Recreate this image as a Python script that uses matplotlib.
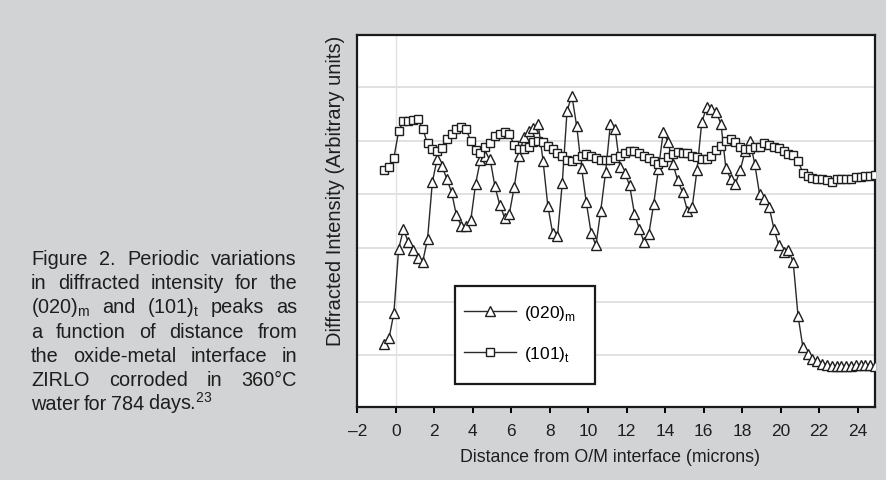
import matplotlib
matplotlib.use("Agg")
from matplotlib import pyplot as plt
from matplotlib.patches import Rectangle

# distance from O/M interface (microns), same scan points for both peaks
x = [-0.6, -0.35, -0.1, 0.15, 0.4, 0.65, 0.9, 1.15, 1.4, 1.65,
     1.9, 2.15, 2.4, 2.65, 2.9, 3.15, 3.4, 3.65, 3.9, 4.15,
     4.4, 4.65, 4.9, 5.15, 5.4, 5.65, 5.9, 6.15, 6.4, 6.65,
     6.9, 7.15, 7.4, 7.65, 7.9, 8.15, 8.4, 8.65, 8.9, 9.15,
     9.4, 9.65, 9.9, 10.15, 10.4, 10.65, 10.9, 11.15, 11.4, 11.65,
     11.9, 12.15, 12.4, 12.65, 12.9, 13.15, 13.4, 13.65, 13.9, 14.15,
     14.4, 14.65, 14.9, 15.15, 15.4, 15.65, 15.9, 16.15, 16.4, 16.65,
     16.9, 17.15, 17.4, 17.65, 17.9, 18.15, 18.4, 18.65, 18.9, 19.15,
     19.4, 19.65, 19.9, 20.15, 20.4, 20.65, 20.9, 21.15, 21.4, 21.65,
     21.9, 22.15, 22.4, 22.65, 22.9, 23.15, 23.4, 23.65, 23.9, 24.15,
     24.4, 24.65, 24.9]

# (020)m intensity
i020 = [1.22, 1.32, 1.79, 2.99, 3.35, 3.11, 2.96, 2.81, 2.75, 3.17,
        4.23, 4.66, 4.53, 4.29, 4.04, 3.61, 3.42, 3.42, 3.53, 4.20,
        4.65, 4.72, 4.66, 4.15, 3.81, 3.57, 3.64, 4.13, 4.71, 5.07,
        5.19, 5.23, 5.31, 4.63, 3.79, 3.28, 3.22, 4.21, 5.56, 5.84,
        5.27, 4.50, 3.85, 3.28, 3.05, 3.70, 4.41, 5.31, 5.21, 4.51,
        4.40, 4.17, 3.64, 3.36, 3.11, 3.27, 3.82, 4.48, 5.17, 4.97,
        4.57, 4.26, 4.04, 3.70, 3.76, 4.45, 5.35, 5.62, 5.60, 5.53,
        5.31, 4.49, 4.29, 4.20, 4.46, 4.80, 5.00, 4.57, 4.01, 3.92,
        3.76, 3.36, 3.05, 2.92, 2.96, 2.74, 1.74, 1.16, 1.03, 0.94,
        0.89, 0.85, 0.83, 0.81, 0.80, 0.80, 0.80, 0.81, 0.82, 0.82,
        0.82, 0.82, 0.81]

# (101)t intensity
i101 = [4.45, 4.51, 4.68, 5.18, 5.36, 5.37, 5.39, 5.41, 5.22, 4.95,
        4.84, 4.80, 4.86, 5.03, 5.13, 5.21, 5.26, 5.21, 5.00, 4.82,
        4.78, 4.88, 4.96, 5.08, 5.13, 5.16, 5.13, 4.92, 4.85, 4.85,
        4.89, 4.97, 5.00, 4.98, 4.91, 4.85, 4.78, 4.71, 4.65, 4.63,
        4.66, 4.71, 4.75, 4.71, 4.67, 4.65, 4.65, 4.65, 4.67, 4.71,
        4.77, 4.80, 4.80, 4.77, 4.72, 4.67, 4.62, 4.57, 4.60, 4.69,
        4.76, 4.79, 4.78, 4.77, 4.71, 4.69, 4.66, 4.66, 4.72, 4.83,
        4.91, 4.99, 5.03, 4.97, 4.88, 4.84, 4.85, 4.88, 4.89, 4.95,
        4.92, 4.89, 4.86, 4.80, 4.75, 4.73, 4.63, 4.40, 4.34, 4.30,
        4.29, 4.28, 4.26, 4.23, 4.28, 4.29, 4.29, 4.29, 4.32, 4.33,
        4.34, 4.35, 4.37]

xticks = [-2, 0, 2, 4, 6, 8, 10, 12, 14, 16, 18, 20, 22, 24]
xticklabels = ["\u20132", "0", "2", "4", "6", "8", "10", "12", "14", "16",
               "18", "20", "22", "24"]
grid_y = [1, 2, 3, 4, 5, 6]

caption = ["Figure 2. Periodic variations",
           "in diffracted intensity for the",
           r"(020)$_\mathregular{m}$ and (101)$_\mathregular{t}$ peaks as",
           "a function of distance from",
           "the oxide-metal interface in",
           "ZIRLO corroded in 360\u00b0C",
           r"water for 784 days.$^\mathregular{23}$"]

bg = "#d2d3d5"
ink = "#1e1e1e"
plt.rcParams["font.family"] = ["Liberation Sans", "DejaVu Sans"]

fig = plt.figure(figsize=(8.86, 4.81), dpi=100, facecolor=bg)
ax = fig.add_axes([357.3 / 886, 1 - 408 / 481, (875 - 357.3) / 886, (408 - 36) / 481])
ax.set_facecolor("white")

for g in grid_y:
    ax.axhline(g, color="#dedede", lw=1.3, zorder=0)
ax.axvline(0, color="#e2e2e2", lw=1.0, zorder=0)

ax.plot(x, i020, color="#2a2a2a", lw=1.0, marker="^", ms=7, mfc="white",
        mec=ink, mew=1.0, label=r"(020)$_\mathregular{m}$", zorder=3)
ax.plot(x, i101, color="#2a2a2a", lw=1.0, marker="s", ms=5.2, mfc="white",
        mec=ink, mew=1.0, label=r"(101)$_\mathregular{t}$", zorder=3)

ax.set_xlim(-2, 24.9)
ax.set_ylim(0.04, 6.97)
ax.set_yticks([])
ax.set_xticks(xticks)
ax.set_xticklabels(xticklabels, fontsize=12.5, color=ink)
ax.tick_params(axis="x", direction="out", length=4.5, width=1.4, pad=7)
for s in ax.spines.values():
    s.set_linewidth(1.6)
    s.set_color("#1a1a1a")

ax.set_xlabel("Distance from O/M interface (microns)", fontsize=12.8, color=ink)
ax.xaxis.set_label_coords(0.488, -0.11)
ax.set_ylabel("Diffracted Intensity (Arbitrary units)", fontsize=14.5, color=ink)
ax.yaxis.set_label_coords(-0.024, 0.585)

# legend box
ax.add_patch(Rectangle((0.189, 0.062), 0.271, 0.263, transform=ax.transAxes,
                       fill=True, facecolor="white", edgecolor="#1a1a1a",
                       lw=1.6, zorder=4))
leg = ax.legend(loc="upper left", bbox_to_anchor=(0.180, 0.318), frameon=False,
                prop={"size": 12.5}, handlelength=3.0, handletextpad=0.45,
                labelspacing=1.3, borderpad=0.3)
leg.set_zorder(5)

# justified caption
renderer = fig.canvas.get_renderer()
left, right = 31, 297
for i, line in enumerate(caption):
    words = line.split(" ")
    yb = 1 - (265 + i * 24.2) / 481
    texts = [fig.text(0, yb, w, fontsize=14.3, va="baseline", color=ink)
             for w in words]
    widths = [t.get_window_extent(renderer).width for t in texts]
    if i < len(caption) - 1:
        gap = (right - left - sum(widths)) / (len(words) - 1)
    else:
        gap = 4.0
    xp = left
    for t, w in zip(texts, widths):
        t.set_x(xp / 886)
        xp += w + gap

fig.savefig("out.png", dpi=100, facecolor=bg)
